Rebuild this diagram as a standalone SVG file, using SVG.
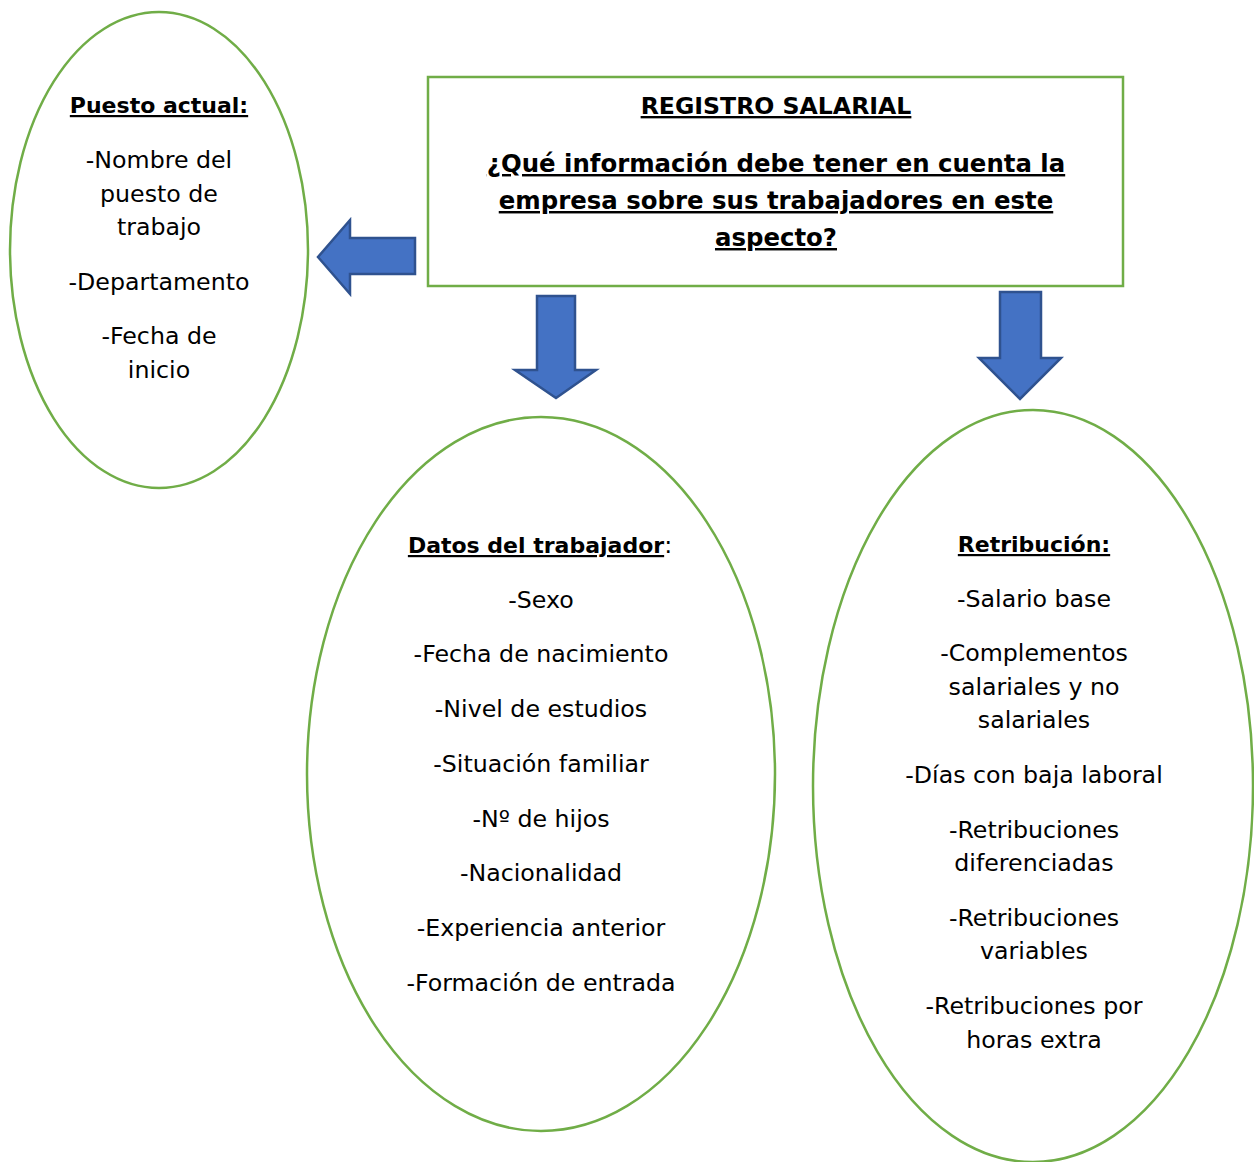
<svg xmlns="http://www.w3.org/2000/svg" width="1254" height="1162" viewBox="0 0 1254 1162">
<style>
.node{fill:#fff;stroke:#70ad47;stroke-width:2.5}
.arrow{fill:#4472c4;stroke:#2f528f;stroke-width:2.5;stroke-linejoin:miter}
text{font-family:"DejaVu Sans","Noto Sans",sans-serif;font-size:23.7px;fill:#000;text-anchor:middle}
.h{font-weight:bold;text-decoration:underline;font-size:22px}
.t{font-size:24.4px}
.t0{font-size:23.6px}
</style>
<rect width="1254" height="1162" fill="#fff"/>
<g id="connectors">
<polygon class="arrow" points="415,238 350,238 350,220 318,257 350,294 350,274 415,274"/>
<polygon class="arrow" points="537,296 575,296 575,370 596,370 556,398 515,370 537,370"/>
<polygon class="arrow" points="1000,292 1041,292 1041,358 1061,358 1020,399 979,358 1000,358"/>
</g>
<g id="registro">
<rect class="node" x="428" y="77" width="695" height="209"/>
<text class="h t0" x="776" y="114">REGISTRO SALARIAL</text>
<text class="h t" x="776" y="172">¿Qué información debe tener en cuenta la</text>
<text class="h t" x="776" y="209">empresa sobre sus trabajadores en este</text>
<text class="h t" x="776" y="246">aspecto?</text>
</g>
<g id="puesto">
<ellipse class="node" cx="159" cy="250" rx="149" ry="238"/>
<text class="h" x="159" y="113">Puesto actual:</text>
<text x="159" y="168">-Nombre del</text>
<text x="159" y="202">puesto de</text>
<text x="159" y="235">trabajo</text>
<text x="159" y="290">-Departamento</text>
<text x="159" y="344">-Fecha de</text>
<text x="159" y="378">inicio</text>
</g>
<g id="datos">
<ellipse class="node" cx="541" cy="774" rx="234" ry="357"/>
<text x="540" y="553"><tspan class="h">Datos del trabajador</tspan>:</text>
<text x="541" y="608">-Sexo</text>
<text x="541" y="662">-Fecha de nacimiento</text>
<text x="541" y="717">-Nivel de estudios</text>
<text x="541" y="772">-Situación familiar</text>
<text x="541" y="827">-Nº de hijos</text>
<text x="541" y="881">-Nacionalidad</text>
<text x="541" y="936">-Experiencia anterior</text>
<text x="541" y="991">-Formación de entrada</text>
</g>
<g id="retribucion">
<ellipse class="node" cx="1033" cy="786" rx="220" ry="376"/>
<text class="h" x="1034" y="552">Retribución:</text>
<text x="1034" y="607">-Salario base</text>
<text x="1034" y="661">-Complementos</text>
<text x="1034" y="695">salariales y no</text>
<text x="1034" y="728">salariales</text>
<text x="1034" y="783">-Días con baja laboral</text>
<text x="1034" y="838">-Retribuciones</text>
<text x="1034" y="871">diferenciadas</text>
<text x="1034" y="926">-Retribuciones</text>
<text x="1034" y="959">variables</text>
<text x="1034" y="1014">-Retribuciones por</text>
<text x="1034" y="1048">horas extra</text>
</g>
</svg>
